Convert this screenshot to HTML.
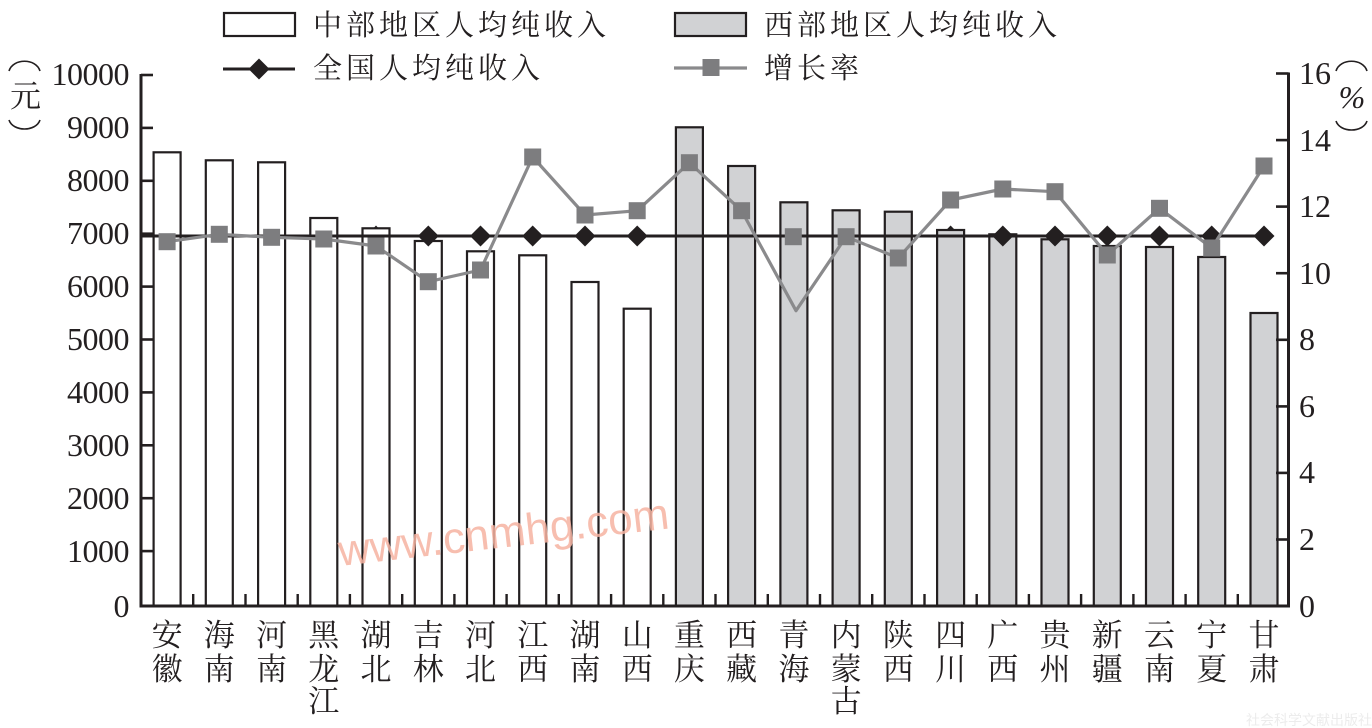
<!DOCTYPE html>
<html><head><meta charset="utf-8"><style>
html,body{margin:0;padding:0;background:#fff;}
svg{display:block;}
.num{font-family:"Liberation Serif",serif;font-size:32px;fill:#231f20;}
.cjk{font-family:"Liberation Serif","Noto Serif CJK SC",serif;fill:#231f20;}
</style></head><body>
<svg width="1372" height="728" viewBox="0 0 1372 728" xmlns="http://www.w3.org/2000/svg">
<rect width="1372" height="728" fill="#fff"/>

<text x="1246" y="725" font-family="Liberation Sans, 'Noto Sans CJK SC', sans-serif" font-size="14" fill="#ececec">社会科学文献出版社</text>

<!-- bars -->
<g stroke="#231f20" stroke-width="2.2">
<rect x="153.6" y="152.3" width="27" height="453.7" fill="#fff"/>
<rect x="205.8" y="160.3" width="27" height="445.7" fill="#fff"/>
<rect x="258.1" y="162.3" width="27" height="443.7" fill="#fff"/>
<rect x="310.3" y="218" width="27" height="388" fill="#fff"/>
<rect x="362.5" y="228.3" width="27" height="377.7" fill="#fff"/>
<rect x="414.8" y="241" width="27" height="365" fill="#fff"/>
<rect x="467.0" y="251.3" width="27" height="354.7" fill="#fff"/>
<rect x="519.2" y="255.3" width="27" height="350.7" fill="#fff"/>
<rect x="571.5" y="282" width="27" height="324" fill="#fff"/>
<rect x="623.7" y="308.7" width="27" height="297.3" fill="#fff"/>
<rect x="675.9" y="127.3" width="27" height="478.7" fill="#d1d2d4"/>
<rect x="728.1" y="166" width="27" height="440" fill="#d1d2d4"/>
<rect x="780.4" y="202.3" width="27" height="403.7" fill="#d1d2d4"/>
<rect x="832.6" y="210.3" width="27" height="395.7" fill="#d1d2d4"/>
<rect x="884.8" y="211.7" width="27" height="394.3" fill="#d1d2d4"/>
<rect x="937.1" y="230" width="27" height="376" fill="#d1d2d4"/>
<rect x="989.3" y="234.3" width="27" height="371.7" fill="#d1d2d4"/>
<rect x="1041.5" y="239.3" width="27" height="366.7" fill="#d1d2d4"/>
<rect x="1093.8" y="246" width="27" height="360" fill="#d1d2d4"/>
<rect x="1146.0" y="247" width="27" height="359" fill="#d1d2d4"/>
<rect x="1198.2" y="257" width="27" height="349" fill="#d1d2d4"/>
<rect x="1250.5" y="313" width="27" height="293" fill="#d1d2d4"/>
</g>

<!-- watermark (on top of bars) -->
<text x="340" y="566" transform="rotate(-6.5 340 566)" font-family="Liberation Sans, sans-serif" font-size="44" fill="#f6b3a2" opacity="0.85">www.cnmhg.com</text>

<!-- national line -->
<line x1="141" y1="236" x2="1264" y2="236" stroke="#231f20" stroke-width="3"/>
<g fill="#231f20">
<polygon points="376,225.5 378.5,228.3 373.5,228.3"/>
<polygon points="950.6,225.5 955,230 946.2,230"/>
<polygon points="428.3,225.5 438.8,236 428.3,246.5 417.8,236"/>
<polygon points="480.5,225.5 491,236 480.5,246.5 470,236"/>
<polygon points="532.7,225.5 543.2,236 532.7,246.5 522.2,236"/>
<polygon points="585.0,225.5 595.5,236 585.0,246.5 574.5,236"/>
<polygon points="637.2,225.5 647.7,236 637.2,246.5 626.7,236"/>
<polygon points="1002.8,225.5 1013.3,236 1002.8,246.5 992.3,236"/>
<polygon points="1055.0,225.5 1065.5,236 1055.0,246.5 1044.5,236"/>
<polygon points="1107.3,225.5 1117.8,236 1107.3,246.5 1096.8,236"/>
<polygon points="1159.5,225.5 1170,236 1159.5,246.5 1149,236"/>
<polygon points="1211.7,225.5 1222.2,236 1211.7,246.5 1201.2,236"/>
<polygon points="1264.0,225.5 1274.5,236 1264.0,246.5 1253.5,236"/>
</g>

<!-- growth line -->
<polyline fill="none" stroke="#8a8a8c" stroke-width="3.2" stroke-linejoin="round" points="167.1,241.7 219.3,234.3 271.6,237.3 323.8,239 376.0,246 428.3,281.7 480.5,270 532.7,157 585.0,215 637.2,210.7 689.4,162.7 741.6,210.7 796,310.7 846.1,236.7 898.3,258 950.6,200 1002.8,189 1055.0,191.7 1107.3,255 1159.5,208.3 1211.7,248 1264.0,166"/>
<g fill="#7d7d7f">
<rect x="158.6" y="233.2" width="17" height="17"/>
<rect x="210.8" y="225.8" width="17" height="17"/>
<rect x="263.1" y="228.8" width="17" height="17"/>
<rect x="315.3" y="230.5" width="17" height="17"/>
<rect x="367.5" y="237.5" width="17" height="17"/>
<rect x="419.8" y="273.2" width="17" height="17"/>
<rect x="472.0" y="261.5" width="17" height="17"/>
<rect x="524.2" y="148.5" width="17" height="17"/>
<rect x="576.5" y="206.5" width="17" height="17"/>
<rect x="628.7" y="202.2" width="17" height="17"/>
<rect x="680.9" y="154.2" width="17" height="17"/>
<rect x="733.1" y="202.2" width="17" height="17"/>
<rect x="784.8" y="228.2" width="17" height="17"/>
<rect x="837.6" y="228.2" width="17" height="17"/>
<rect x="889.8" y="249.5" width="17" height="17"/>
<rect x="942.1" y="191.5" width="17" height="17"/>
<rect x="994.3" y="180.5" width="17" height="17"/>
<rect x="1046.5" y="183.2" width="17" height="17"/>
<rect x="1098.8" y="246.5" width="17" height="17"/>
<rect x="1151.0" y="199.8" width="17" height="17"/>
<rect x="1203.2" y="239.5" width="17" height="17"/>
<rect x="1255.5" y="157.5" width="17" height="17"/>
</g>

<!-- axes -->
<g stroke="#231f20" stroke-width="3" fill="none">
<path d="M141,74 V606 H1288.5 V72.5"/>
</g>
<g stroke="#231f20" stroke-width="2.6">
<line x1="141" y1="75" x2="153" y2="75"/>
<line x1="141" y1="127.9" x2="153" y2="127.9"/>
<line x1="141" y1="180.8" x2="153" y2="180.8"/>
<line x1="141" y1="233.7" x2="153" y2="233.7"/>
<line x1="141" y1="286.6" x2="153" y2="286.6"/>
<line x1="141" y1="339.5" x2="153" y2="339.5"/>
<line x1="141" y1="392.4" x2="153" y2="392.4"/>
<line x1="141" y1="445.3" x2="153" y2="445.3"/>
<line x1="141" y1="498.2" x2="153" y2="498.2"/>
<line x1="141" y1="551.1" x2="153" y2="551.1"/>
<line x1="1276" y1="73.5" x2="1288.5" y2="73.5"/>
<line x1="1276" y1="140.1" x2="1288.5" y2="140.1"/>
<line x1="1276" y1="206.6" x2="1288.5" y2="206.6"/>
<line x1="1276" y1="273.2" x2="1288.5" y2="273.2"/>
<line x1="1276" y1="339.8" x2="1288.5" y2="339.8"/>
<line x1="1276" y1="406.4" x2="1288.5" y2="406.4"/>
<line x1="1276" y1="472.9" x2="1288.5" y2="472.9"/>
<line x1="1276" y1="539.5" x2="1288.5" y2="539.5"/>
</g>
<g stroke="#231f20" stroke-width="2.4">
<line x1="193.2" y1="594" x2="193.2" y2="606"/>
<line x1="245.5" y1="594" x2="245.5" y2="606"/>
<line x1="297.7" y1="594" x2="297.7" y2="606"/>
<line x1="349.9" y1="594" x2="349.9" y2="606"/>
<line x1="402.2" y1="594" x2="402.2" y2="606"/>
<line x1="454.4" y1="594" x2="454.4" y2="606"/>
<line x1="506.6" y1="594" x2="506.6" y2="606"/>
<line x1="558.8" y1="594" x2="558.8" y2="606"/>
<line x1="611.1" y1="594" x2="611.1" y2="606"/>
<line x1="663.3" y1="594" x2="663.3" y2="606"/>
<line x1="715.5" y1="594" x2="715.5" y2="606"/>
<line x1="767.8" y1="594" x2="767.8" y2="606"/>
<line x1="820.0" y1="594" x2="820.0" y2="606"/>
<line x1="872.2" y1="594" x2="872.2" y2="606"/>
<line x1="924.5" y1="594" x2="924.5" y2="606"/>
<line x1="976.7" y1="594" x2="976.7" y2="606"/>
<line x1="1028.9" y1="594" x2="1028.9" y2="606"/>
<line x1="1081.1" y1="594" x2="1081.1" y2="606"/>
<line x1="1133.4" y1="594" x2="1133.4" y2="606"/>
<line x1="1185.6" y1="594" x2="1185.6" y2="606"/>
<line x1="1237.8" y1="594" x2="1237.8" y2="606"/>
</g>

<!-- left tick labels -->
<g class="num" text-anchor="end" letter-spacing="-0.5">
<text x="129" y="85">10000</text>
<text x="129" y="138">9000</text>
<text x="129" y="191">8000</text>
<text x="129" y="244">7000</text>
<text x="129" y="297">6000</text>
<text x="129" y="350">5000</text>
<text x="129" y="403">4000</text>
<text x="129" y="456">3000</text>
<text x="129" y="509">2000</text>
<text x="129" y="562">1000</text>
<text x="129" y="617">0</text>
</g>
<!-- right tick labels -->
<g class="num">
<text x="1299" y="84">16</text>
<text x="1299" y="151">14</text>
<text x="1299" y="217">12</text>
<text x="1299" y="284">10</text>
<text x="1299" y="350">8</text>
<text x="1299" y="417">6</text>
<text x="1299" y="483">4</text>
<text x="1299" y="550">2</text>
<text x="1299" y="617">0</text>
</g>

<!-- units: vertical brackets -->
<g fill="none" stroke="#231f20" stroke-width="1.6">
<path d="M9,71 C13,58 36,58 40,71"/>
<path d="M9,120 C13,132 36,132 40,120"/>
<path d="M1336,71 C1340,58 1363,58 1367,71"/>
<path d="M1336,121 C1340,133 1363,133 1367,121"/>
</g>
<text x="25.5" y="107" class="cjk" font-size="31" text-anchor="middle">元</text>
<text x="1352" y="108" text-anchor="middle" font-family="Liberation Serif, serif" font-style="italic" font-size="32" fill="#231f20">%</text>

<!-- legend -->
<rect x="224" y="13" width="71" height="23" fill="#fff" stroke="#231f20" stroke-width="2.2"/>
<rect x="675" y="13" width="71" height="23" fill="#d1d2d4" stroke="#231f20" stroke-width="2.2"/>
<line x1="223" y1="69" x2="295" y2="69" stroke="#231f20" stroke-width="3"/>
<polygon points="259,58.5 269.5,69 259,79.5 248.5,69" fill="#231f20"/>
<line x1="674" y1="68" x2="747" y2="68" stroke="#8a8a8c" stroke-width="3.2"/>
<rect x="702.5" y="59" width="17" height="17" fill="#7d7d7f"/>
<g class="cjk" font-size="29" letter-spacing="4">
<text x="313" y="35">中部地区人均纯收入</text>
<text x="313" y="78">全国人均纯收入</text>
<text x="764" y="35">西部地区人均纯收入</text>
<text x="764" y="78">增长率</text>
</g>

<!-- x labels -->
<g class="cjk" font-size="31" text-anchor="middle">
<text x="167.1" y="646">安</text><text x="167.1" y="680">徽</text>
<text x="219.3" y="646">海</text><text x="219.3" y="680">南</text>
<text x="271.6" y="646">河</text><text x="271.6" y="680">南</text>
<text x="323.8" y="646">黑</text><text x="323.8" y="680">龙</text><text x="323.8" y="712">江</text>
<text x="376.0" y="646">湖</text><text x="376.0" y="680">北</text>
<text x="428.3" y="646">吉</text><text x="428.3" y="680">林</text>
<text x="480.5" y="646">河</text><text x="480.5" y="680">北</text>
<text x="532.7" y="646">江</text><text x="532.7" y="680">西</text>
<text x="585.0" y="646">湖</text><text x="585.0" y="680">南</text>
<text x="637.2" y="646">山</text><text x="637.2" y="680">西</text>
<text x="689.4" y="646">重</text><text x="689.4" y="680">庆</text>
<text x="741.6" y="646">西</text><text x="741.6" y="680">藏</text>
<text x="793.9" y="646">青</text><text x="793.9" y="680">海</text>
<text x="846.1" y="646">内</text><text x="846.1" y="680">蒙</text><text x="846.1" y="712">古</text>
<text x="898.3" y="646">陕</text><text x="898.3" y="680">西</text>
<text x="950.6" y="646">四</text><text x="950.6" y="680">川</text>
<text x="1002.8" y="646">广</text><text x="1002.8" y="680">西</text>
<text x="1055.0" y="646">贵</text><text x="1055.0" y="680">州</text>
<text x="1107.3" y="646">新</text><text x="1107.3" y="680">疆</text>
<text x="1159.5" y="646">云</text><text x="1159.5" y="680">南</text>
<text x="1211.7" y="646">宁</text><text x="1211.7" y="680">夏</text>
<text x="1264.0" y="646">甘</text><text x="1264.0" y="680">肃</text>
</g>
</svg>
</body></html>
